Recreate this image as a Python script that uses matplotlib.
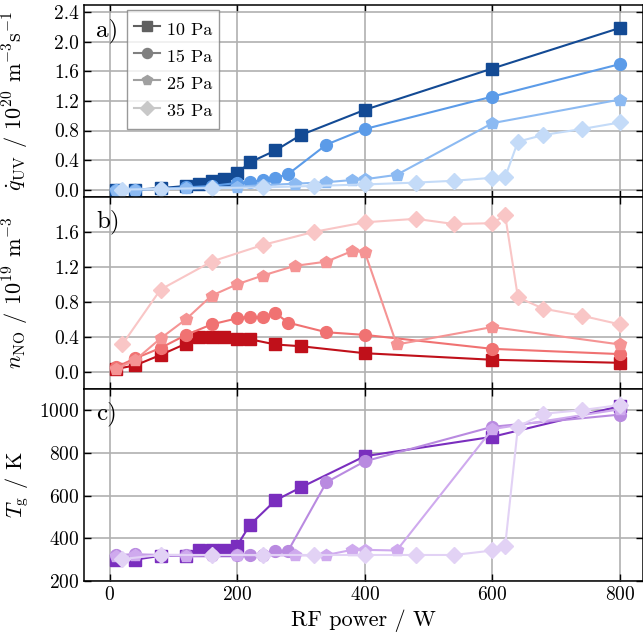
import matplotlib
matplotlib.use('Agg')
import matplotlib.pyplot as plt
from matplotlib.ticker import FormatStrFormatter

plt.rcParams['font.family'] = 'serif'
plt.rcParams['font.serif'] = ['cmr10']
plt.rcParams['mathtext.fontset'] = 'cm'
plt.rcParams['axes.unicode_minus'] = False
plt.rcParams['axes.formatter.use_mathtext'] = True

# RF power (W) for each pressure
p10 = [10, 40, 80, 120, 140, 160, 180, 200, 220, 260, 300, 400, 600, 800]
p15 = [10, 40, 80, 120, 160, 200, 220, 240, 260, 280, 340, 400, 600, 800]
p25 = [10, 40, 80, 120, 160, 200, 240, 290, 340, 380, 400, 450, 600, 800]
p35 = [20, 80, 160, 240, 320, 400, 480, 540, 600, 620, 640, 680, 740, 800]

# a) UV photon production rate / 1e20 m^-3 s^-1
quv10 = [0.0, 0.0, 0.02, 0.05, 0.08, 0.11, 0.14, 0.22, 0.37, 0.53, 0.74, 1.08, 1.64, 2.19]
quv15 = [0.0, 0.0, 0.01, 0.03, 0.05, 0.09, 0.10, 0.13, 0.16, 0.21, 0.61, 0.82, 1.26, 1.70]
quv25 = [0.0, 0.0, 0.01, 0.02, 0.03, 0.04, 0.06, 0.08, 0.10, 0.13, 0.14, 0.20, 0.90, 1.22]
quv35 = [0.0, 0.01, 0.02, 0.03, 0.05, 0.07, 0.095, 0.12, 0.16, 0.17, 0.65, 0.74, 0.82, 0.91]

# b) NO density / 1e19 m^-3
nno10 = [0.03, 0.07, 0.19, 0.32, 0.40, 0.40, 0.40, 0.37, 0.37, 0.31, 0.29, 0.21, 0.135, 0.10]
nno15 = [0.05, 0.15, 0.27, 0.42, 0.54, 0.61, 0.63, 0.62, 0.67, 0.56, 0.45, 0.42, 0.26, 0.20]
nno25 = [0.03, 0.13, 0.38, 0.60, 0.87, 1.00, 1.10, 1.21, 1.26, 1.38, 1.37, 0.31, 0.51, 0.31]
nno35 = [0.31, 0.94, 1.26, 1.45, 1.60, 1.71, 1.75, 1.69, 1.70, 1.79, 0.85, 0.72, 0.64, 0.54]

# c) gas temperature / K
tg10 = [300, 300, 318, 318, 346, 346, 346, 366, 463, 578, 639, 785, 876, 1020]
tg15 = [322, 325, 322, 322, 322, 322, 322, 322, 342, 342, 663, 761, 923, 980]
tg25 = [318, 320, 320, 318, 320, 320, 320, 320, 322, 346, 346, 343, 912, 1005]
tg35 = [303, 322, 322, 322, 322, 322, 322, 322, 343, 365, 923, 984, 1001, 1025]

labels = ['10 Pa', '15 Pa', '25 Pa', '35 Pa']
markers = ['s', 'o', 'p', 'D']
msizes = [9, 8.5, 9, 8]
blues = ['#134a94', '#5b9be8', '#8cbaf2', '#c4dbf8']
reds = ['#c0101a', '#f07272', '#f59494', '#f9c6c6']
purples = ['#7a2ebe', '#b98ae0', '#cfaaee', '#e2d2f5']
greys = ['#606060', '#808080', '#a0a0a0', '#c8c8c8']

powers = [p10, p15, p25, p35]

fig = plt.figure(figsize=(6.43, 6.44), dpi=100)
h = 192 / 644
left = 84 / 643
width = 1.0 - left
axa = fig.add_axes([left, 1 - 5 / 644 - h, width, h])
axb = fig.add_axes([left, 1 - 5 / 644 - 2 * h, width, h], sharex=axa)
axc = fig.add_axes([left, 1 - 5 / 644 - 3 * h, width, h], sharex=axa)

panels = [
    (axa, [quv10, quv15, quv25, quv35], blues),
    (axb, [nno10, nno15, nno25, nno35], reds),
    (axc, [tg10, tg15, tg25, tg35], purples),
]

for ax, series, cols in panels:
    for x, y, c, m, ms in zip(powers, series, cols, markers, msizes):
        ax.plot(x, y, marker=m, ms=ms, color=c, lw=1.5, zorder=3)
    ax.grid(True, color='#b0b0b0', lw=1.2, zorder=0)
    ax.tick_params(direction='in', top=True, right=True, labelsize=14,
                   length=5, width=1)
    for s in ax.spines.values():
        s.set_linewidth(1.1)

# legend with grey proxies
for lab, m, ms, c in zip(labels, markers, msizes, greys):
    axa.plot([], [], marker=m, ms=ms * 0.85, color=c, lw=1.5, label=lab)
leg = axa.legend(loc='upper left', bbox_to_anchor=(0.077, 0.972),
                 borderaxespad=0, fontsize=13, fancybox=False,
                 handlelength=1.4, handletextpad=0.4, handleheight=1.55,
                 labelspacing=0.25, borderpad=0.4, edgecolor='#808080')
leg.get_frame().set_linewidth(1.0)

axa.set_xlim(-40, 836)
axa.set_ylim(-0.1, 2.5)
axa.set_yticks([0.0, 0.4, 0.8, 1.2, 1.6, 2.0, 2.4])
axa.yaxis.set_major_formatter(FormatStrFormatter('%.1f'))

axb.set_ylim(-0.2, 2.0)
axb.set_yticks([0.0, 0.4, 0.8, 1.2, 1.6])
axb.yaxis.set_major_formatter(FormatStrFormatter('%.1f'))

axc.set_ylim(200, 1100)
axc.set_yticks([200, 400, 600, 800, 1000])
axc.set_xticks([0, 200, 400, 600, 800])

plt.setp(axa.get_xticklabels(), visible=False)
plt.setp(axb.get_xticklabels(), visible=False)

axa.set_ylabel(r'$\dot{q}_\mathrm{UV}$ / 10$^{20}$ m$^{-3}$s$^{-1}$', fontsize=16)
axb.set_ylabel(r'$n_\mathrm{NO}$ / 10$^{19}$ m$^{-3}$', fontsize=16)
axc.set_ylabel(r'$T_\mathrm{g}$ / K', fontsize=16)
axc.set_xlabel('RF power / W', fontsize=16)
for ax in (axa, axb, axc):
    ax.yaxis.set_label_coords(-0.095, 0.5)

axa.text(0.022, 0.93, 'a)', transform=axa.transAxes, fontsize=18, va='top')
axb.text(0.022, 0.935, 'b)', transform=axb.transAxes, fontsize=18, va='top')
axc.text(0.022, 0.935, 'c)', transform=axc.transAxes, fontsize=18, va='top')

fig.savefig('out.png', dpi=100)
